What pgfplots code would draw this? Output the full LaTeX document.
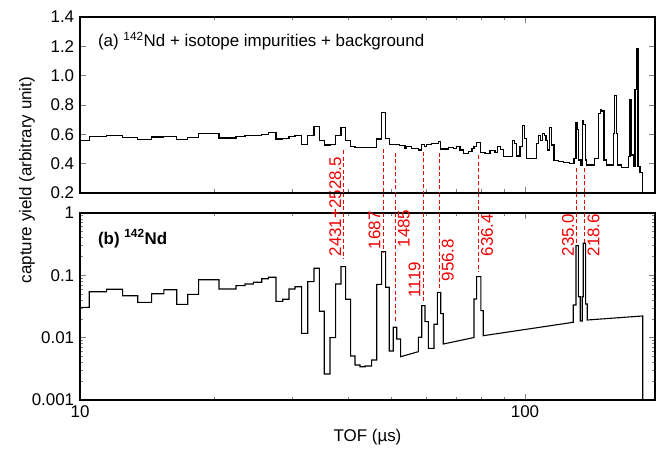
\documentclass[border=0pt]{standalone}
\usepackage{pgfplots}
\pgfplotsset{compat=1.18}
\usepackage{fontspec}
\setmainfont{Liberation Sans}
\definecolor{lblred}{RGB}{240,0,0}
\tikzset{
 rdash/.style={draw=lblred, dash pattern=on 4bp off 2.5bp, line width=1bp},
 rlab/.style={text=lblred, rotate=90, font=\fontsize{17}{20}\selectfont, inner sep=2.5bp},
}
\begin{document}
\fontsize{17}{20}\selectfont
\begin{tikzpicture}
\useasboundingbox (-80bp,-53bp) rectangle (578bp,400bp);
% ---------- bottom panel ----------
\begin{axis}[scale only axis, width=575bp, height=187bp, at={(0,0)}, anchor=south west,
  xmode=log, xmin=10, xmax=196,
  ymode=log, ymin=0.001, ymax=1,
  axis line style={line width=1.2bp},
  major tick length=6bp, minor tick length=3.5bp,
  every tick/.append style={line width=0.8bp},
  /pgf/number format/assume math mode=true,
  tick label style={font=\fontsize{17}{20}\selectfont},
  clip=false,
  ytick={0.001,0.01,0.1,1}, yticklabels={0.001,0.01,0.1,1},
  xtick={10,100}, xticklabels={10,100},
  xlabel={TOF (µs)}, ylabel={capture yield (arbitrary unit)},
  xlabel style={at={(axis description cs:0.5,-0.198)}, anchor=center},
  ylabel style={at={(axis description cs:-0.092,1.176)}, anchor=center},
  label style={font=\fontsize{17}{20}\selectfont}]
\addplot[black, line width=1.1bp, mark=none] coordinates {
(10.00,0.0307) (10.49,0.0307)
(10.49,0.0546) (11.48,0.0546)
(11.48,0.0597) (12.47,0.0597)
(12.47,0.0471) (13.48,0.0471)
(13.48,0.0369) (14.49,0.0369)
(14.49,0.0507) (15.44,0.0507)
(15.44,0.0588) (16.50,0.0588)
(16.50,0.0343) (17.46,0.0343)
(17.46,0.0496) (18.48,0.0496)
(18.48,0.0851) (20.53,0.0851)
(20.53,0.0603) (22.42,0.0603)
(22.42,0.0682) (23.49,0.0682)
(23.49,0.0726) (24.52,0.0726)
(24.52,0.0774) (25.61,0.0774)
(25.61,0.0883) (26.50,0.0883)
(26.50,0.0930) (27.57,0.0930)
(27.57,0.0383) (28.55,0.0383)
(28.55,0.0413) (29.49,0.0413)
(29.49,0.0603) (30.42,0.0603)
(30.42,0.0657) (31.49,0.0657)
(31.49,0.01175) (32.49,0.01175)
(32.49,0.0791) (33.57,0.0791)
(33.57,0.1297) (34.50,0.1297)
(34.50,0.0265) (35.40,0.0265)
(35.40,0.00261) (36.46,0.00261)
(36.46,0.00999) (37.55,0.00999)
(37.55,0.0726) (38.59,0.0726)
(38.59,0.1376) (39.54,0.1376)
(39.54,0.0413) (40.58,0.0413)
(40.58,0.00508) (41.50,0.00508)
(41.50,0.00364) (42.58,0.00364)
(42.58,0.00342) (43.70,0.00342)
(43.70,0.00351) (45.24,0.00351)
(45.24,0.00438) (46.43,0.00438)
(46.43,0.0718) (47.64,0.0718)
(47.64,0.2394) (48.64,0.2394)
(48.64,0.0643) (49.55,0.0643)
(49.55,0.00611) (50.59,0.00611)
(50.59,0.01467) (51.49,0.01467)
(51.49,0.00952) (52.56,0.00952)
(52.56,0.00495) (57.58,0.00596)
(57.58,0.01014) (58.61,0.01014)
(58.61,0.0326) (59.62,0.0326)
(59.62,0.01804) (60.64,0.01804)
(60.64,0.00675) (62.46,0.00675)
(62.46,0.01639) (63.53,0.01639)
(63.53,0.0534) (64.66,0.0534)
(64.66,0.02424) (65.53,0.02424)
(65.53,0.00791) (76.81,0.01006)
(76.81,0.0417) (77.89,0.0417)
(77.89,0.0951) (79.64,0.0951)
(79.64,0.0271) (80.59,0.0271)
(80.59,0.01075) (128.4,0.01765)
(128.4,0.0334) (130.2,0.0334)
(130.2,0.299) (131.8,0.299)
(131.8,0.0454) (133.1,0.0454)
(133.1,0.01852) (134.5,0.01852)
(134.5,0.0454) (135.2,0.0454)
(135.2,0.3266) (136.9,0.3266)
(136.9,0.0347) (138.0,0.0347)
(138.0,0.0192) (183.9,0.0223)
(183.9,0.001)
};
\node[anchor=base west, inner sep=0pt, font=\bfseries\fontsize{17}{20}\selectfont] at (axis description cs:0.031,0.834) {(b) \textsuperscript{142}Nd};
\draw[rdash] (axis cs:39.2,2.09) -- (axis cs:39.2,0.183);
\draw[rdash] (axis cs:48.04,2.09) -- (axis cs:48.04,0.239);
\draw[rdash] (axis cs:51.04,2.09) -- (axis cs:51.04,0.0187);
\draw[rdash] (axis cs:59.09,2.09) -- (axis cs:59.09,0.036);
\draw[rdash] (axis cs:64.09,2.09) -- (axis cs:64.09,0.0582);
\draw[rdash] (axis cs:78.54,2.09) -- (axis cs:78.54,0.1144);
\draw[rdash] (axis cs:130.7,2.09) -- (axis cs:130.7,0.307);
\draw[rdash] (axis cs:136.4,2.09) -- (axis cs:136.4,0.307);
\node[rlab, anchor=south west] at (axis cs:39.2,0.183) {2431+2528.5};
\node[rlab, anchor=south west] at (axis cs:48.04,0.239) {1687};
\node[rlab, anchor=north west] at (axis cs:51.04,0.255) {1485};
\node[rlab, anchor=south west] at (axis cs:59.09,0.0402) {1119};
\node[rlab, anchor=north west] at (axis cs:64.09,0.0726) {956.8};
\node[rlab, anchor=north west] at (axis cs:78.54,0.183) {636.4};
\node[rlab, anchor=south west] at (axis cs:130.7,0.183) {235.0};
\node[rlab, anchor=north west] at (axis cs:136.4,0.183) {218.6};
\end{axis}
% ---------- top panel ----------
\begin{axis}[scale only axis, width=575bp, height=176bp, at={(0,207bp)}, anchor=south west,
  xmode=log, xmin=10, xmax=196,
  ymin=0.2, ymax=1.4,
  axis line style={line width=1.2bp},
  major tick length=6bp, minor tick length=3.5bp,
  every tick/.append style={line width=0.8bp},
  /pgf/number format/assume math mode=true,
  tick label style={font=\fontsize{17}{20}\selectfont},
  clip=false,
  ytick={0.2,0.4,0.6,0.8,1.0,1.2,1.4}, yticklabels={0.2,0.4,0.6,0.8,1.0,1.2,1.4},
  xtick={10,100}, xticklabels={,}]
\addplot[black, line width=1.1bp, mark=none] coordinates {
(10.00,0.561)(10.49,0.561)
(10.49,0.584)(11.48,0.584)
(11.48,0.591)(12.47,0.591)
(12.47,0.577)(13.48,0.577)
(13.48,0.566)(14.49,0.566)
(14.49,0.582)(15.44,0.582)
(15.44,0.587)(16.50,0.587)
(16.50,0.566)(17.46,0.566)
(17.46,0.577)(18.48,0.577)
(18.48,0.607)(20.53,0.607)
(20.53,0.575)(22.42,0.575)
(22.42,0.584)(23.49,0.584)
(23.49,0.589)(24.52,0.589)
(24.52,0.592)(25.61,0.592)
(25.61,0.600)(26.50,0.600)
(26.50,0.611)(27.57,0.611)
(27.57,0.568)(28.55,0.568)
(28.55,0.570)(29.49,0.570)
(29.49,0.587)(30.42,0.587)
(30.42,0.591)(31.49,0.591)
(31.49,0.532)(32.49,0.532)
(32.49,0.593)(33.57,0.593)
(33.57,0.652)(34.50,0.652)
(34.50,0.559)(35.40,0.559)
(35.40,0.527)(36.46,0.527)
(36.46,0.532)(37.55,0.532)
(37.55,0.589)(38.59,0.589)
(38.59,0.648)(39.54,0.648)
(39.54,0.561)(40.58,0.561)
(40.58,0.516)(41.50,0.516)
(41.50,0.510)(45.24,0.510)
(45.24,0.509)(46.43,0.509)
(46.43,0.568)(47.64,0.568)
(47.64,0.750)(48.64,0.750)
(48.64,0.573)(49.55,0.573)
(49.55,0.532)(52.36,0.532)
(52.36,0.522)(53.74,0.522)
(53.74,0.505)(54.22,0.505)
(54.22,0.516)(55.64,0.516)
(55.64,0.505)(57.58,0.505)
(57.58,0.493)(58.61,0.493)
(58.61,0.532)(59.40,0.532)
(59.40,0.516)(60.14,0.516)
(60.14,0.532)(61.72,0.532)
(61.72,0.539)(63.86,0.539)
(63.86,0.550)(64.66,0.550)
(64.66,0.500)(67.25,0.500)
(67.25,0.509)(69.01,0.509)
(69.01,0.505)(70.24,0.505)
(70.24,0.516)(71.45,0.516)
(71.45,0.493)(72.68,0.493)
(72.68,0.471)(74.59,0.471)
(74.59,0.480)(76.02,0.480)
(76.02,0.505)(76.81,0.505)
(76.81,0.514)(77.89,0.514)
(77.89,0.546)(79.64,0.546)
(79.64,0.475)(81.31,0.475)
(81.31,0.471)(83.44,0.471)
(83.44,0.488)(85.63,0.488)
(85.63,0.475)(86.65,0.475)
(86.65,0.520)(88.19,0.520)
(88.19,0.498)(89.39,0.498)
(89.39,0.450)(93.84,0.450)
(93.84,0.555)(94.81,0.555)
(94.81,0.539)(95.80,0.539)
(95.80,0.452)(97.44,0.452)
(97.44,0.516)(98.82,0.516)
(98.82,0.659)(99.64,0.659)
(99.64,0.573)(100.9,0.573)
(100.9,0.437)(106.2,0.437)
(106.2,0.539)(107.1,0.539)
(107.1,0.593)(108.5,0.593)
(108.5,0.561)(109.6,0.561)
(109.6,0.607)(110.4,0.607)
(110.4,0.589)(111.5,0.589)
(111.5,0.561)(112.2,0.561)
(112.2,0.493)(113.4,0.493)
(113.4,0.645)(114.8,0.645)
(114.8,0.527)(116.2,0.527)
(116.2,0.420)(118.8,0.420)
(118.8,0.413)(121.9,0.413)
(121.9,0.409)(126.2,0.409)
(126.2,0.402)(128.9,0.402)
(128.9,0.437)(130.2,0.437)
(130.2,0.679)(131.1,0.679)
(131.1,0.630)(132.0,0.630)
(132.0,0.425)(133.6,0.425)
(133.6,0.391)(134.8,0.391)
(134.8,0.693)(135.5,0.693)
(135.5,0.664)(136.6,0.664)
(136.6,0.425)(137.6,0.425)
(137.6,0.391)(143.6,0.391)
(143.6,0.437)(146.1,0.437)
(146.1,0.743)(147.9,0.743)
(147.9,0.766)(148.7,0.766)
(148.7,0.759)(150.5,0.759)
(150.5,0.425)(152.6,0.425)
(152.6,0.391)(157.9,0.391)
(157.9,0.607)(159.1,0.607)
(159.1,0.863)(160.2,0.863)
(160.2,0.607)(161.2,0.607)
(161.2,0.391)(164.9,0.391)
(164.9,0.372)(170.7,0.372)
(170.7,0.447)(172.2,0.447)
(172.2,0.834)(173.7,0.834)
(173.7,0.459)(175.2,0.459)
(175.2,0.379)(176.7,0.379)
(176.7,0.907)(178.3,0.907)
(178.3,1.187)(179.5,1.187)
(179.5,0.379)(181.3,0.379)
(181.3,0.338)(183.9,0.338)
(183.9,0.2)
};
\node[anchor=base west, inner sep=0pt] at (axis description cs:0.031,0.83) {(a) \textsuperscript{142}Nd + isotope impurities + background};
\draw[rdash] (axis cs:39.2,0.493) -- (axis cs:39.2,0.2);
\draw[rdash] (axis cs:48.04,0.5) -- (axis cs:48.04,0.2);
\draw[rdash] (axis cs:51.04,0.473) -- (axis cs:51.04,0.2);
\draw[rdash] (axis cs:59.09,0.48) -- (axis cs:59.09,0.2);
\draw[rdash] (axis cs:64.09,0.473) -- (axis cs:64.09,0.2);
\draw[rdash] (axis cs:78.54,0.459) -- (axis cs:78.54,0.2);
\draw[rdash] (axis cs:130.7,0.37) -- (axis cs:130.7,0.2);
\draw[rdash] (axis cs:136.4,0.37) -- (axis cs:136.4,0.2);
\end{axis}
\end{tikzpicture}
\end{document}
